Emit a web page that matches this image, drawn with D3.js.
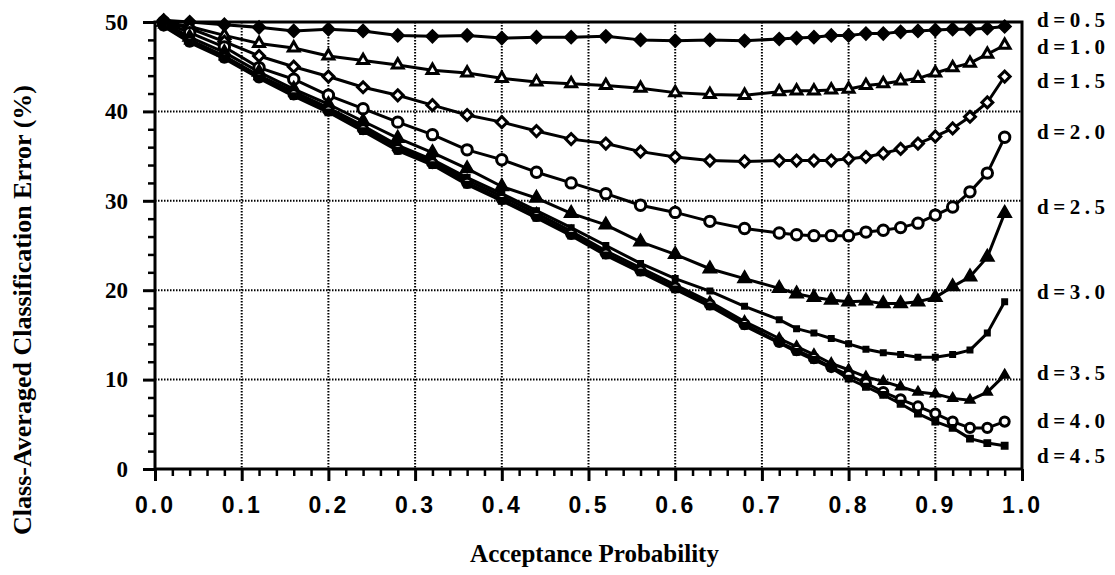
<!DOCTYPE html>
<html>
<head>
<meta charset="utf-8">
<script src="https://cdn.jsdelivr.net/npm/d3@7"></script>
<style>
  body { margin: 0; background: #fff; }
  svg { display: block; }
</style>
</head>
<body>
<figure id="chart" style="margin:0"></figure>
<script>
// acceptance probability values where the points sit
var accept = [0.01, 0.04, 0.08, 0.12, 0.16, 0.20, 0.24, 0.28, 0.32, 0.36, 0.40, 0.44, 0.48, 0.52, 0.56, 0.60, 0.64, 0.68,
	0.72, 0.74, 0.76, 0.78, 0.80, 0.82, 0.84, 0.86, 0.88, 0.90, 0.92, 0.94, 0.96, 0.98];

// class-averaged error (%) per separation d
var d05 = [50.2, 50.0, 49.7, 49.4, 49.0, 49.2, 49.0, 48.5, 48.4, 48.5, 48.2, 48.3, 48.3, 48.4, 48.0, 47.9, 48.0, 47.9,
	48.1, 48.2, 48.3, 48.5, 48.5, 48.7, 48.7, 48.9, 49.0, 49.1, 49.2, 49.2, 49.3, 49.5];
var d10 = [50.0, 49.5, 48.5, 47.6, 47.1, 46.2, 45.7, 45.2, 44.6, 44.3, 43.7, 43.3, 43.1, 42.9, 42.6, 42.1, 41.9, 41.8,
	42.2, 42.3, 42.3, 42.4, 42.5, 42.9, 43.1, 43.4, 43.7, 44.3, 44.9, 45.4, 46.4, 47.4];
var d15 = [50.0, 49.3, 47.8, 46.2, 45.0, 43.9, 42.7, 41.8, 40.7, 39.6, 38.8, 37.8, 36.9, 36.4, 35.5, 34.9, 34.5, 34.4,
	34.5, 34.5, 34.5, 34.5, 34.7, 34.9, 35.3, 35.8, 36.4, 37.2, 38.1, 39.4, 41.0, 43.9];
var d20 = [50.0, 48.8, 47.2, 44.9, 43.6, 41.8, 40.3, 38.8, 37.4, 35.7, 34.6, 33.2, 32.0, 30.8, 29.5, 28.7, 27.7, 26.9,
	26.4, 26.2, 26.1, 26.1, 26.1, 26.5, 26.7, 27.0, 27.5, 28.4, 29.3, 31.0, 33.1, 37.1];
var d25 = [50.0, 48.3, 46.6, 44.4, 42.5, 40.8, 38.9, 37.0, 35.4, 33.6, 31.6, 30.3, 28.6, 27.3, 25.4, 24.0, 22.4, 21.3,
	20.2, 19.6, 19.2, 18.9, 18.7, 18.8, 18.5, 18.5, 18.7, 19.2, 20.4, 21.5, 23.7, 28.6];
var d30 = [49.8, 48.0, 46.2, 44.0, 42.2, 40.4, 38.4, 36.2, 34.6, 32.6, 30.8, 28.9, 27.0, 25.0, 23.0, 21.3, 19.9, 18.2,
	16.7, 15.7, 15.2, 14.6, 14.0, 13.4, 13.0, 12.8, 12.5, 12.5, 12.8, 13.3, 15.2, 18.7];
var d35 = [49.7, 47.9, 46.1, 43.9, 42.1, 40.3, 38.2, 36.0, 34.4, 32.3, 30.5, 28.6, 26.6, 24.4, 22.5, 20.6, 18.7, 16.5,
	14.6, 13.7, 12.8, 11.8, 11.1, 10.3, 9.8, 9.2, 8.6, 8.4, 7.9, 7.7, 8.6, 10.5];
var d40 = [49.6, 47.8, 46.0, 43.8, 41.9, 40.1, 38.0, 35.8, 34.2, 32.0, 30.2, 28.3, 26.3, 24.1, 22.2, 20.3, 18.4, 16.2,
	14.2, 13.3, 12.4, 11.4, 10.5, 9.6, 8.6, 7.8, 7.0, 6.2, 5.3, 4.6, 4.6, 5.3];
var d45 = [49.5, 47.7, 45.9, 43.7, 41.7, 39.9, 37.8, 35.6, 34.0, 31.8, 30.0, 28.1, 26.1, 23.9, 22.0, 20.1, 18.2, 16.0,
	14.1, 13.1, 12.2, 11.3, 10.1, 9.2, 8.3, 7.3, 6.2, 5.3, 4.6, 3.4, 2.9, 2.6];

var seriesNames = ["d = 0.5", "d = 1.0", "d = 1.5", "d = 2.0", "d = 2.5", "d = 3.0", "d = 3.5", "d = 4.0", "d = 4.5"];
var seriesValues = [d05, d10, d15, d20, d25, d30, d35, d40, d45];

var xTicks = [0, 0.1, 0.2, 0.3, 0.4, 0.5, 0.6, 0.7, 0.8, 0.9, 1.0];
var yTicks = [0, 10, 20, 30, 40, 50];

// marker style for each series (shape, filled?, size)
var markers = [
	{ shape: "diamond", fill: true, size: 85 },
	{ shape: "triangle", fill: false, size: 50 },
	{ shape: "diamond", fill: false, size: 60 },
	{ shape: "circle", fill: false, size: 85 },
	{ shape: "triangle", fill: true, size: 80 },
	{ shape: "square", fill: true, size: 30 },
	{ shape: "triangle", fill: true, size: 45 },
	{ shape: "circle", fill: false, size: 65 },
	{ shape: "square", fill: true, size: 40 }
];
// where the right-hand labels sit, in % on the y scale
var labelAt = [49.4, 46.4, 42.6, 36.9, 28.5, 19.0, 10.0, 4.6, 0.7];

var dimensions = {
	width: 1115,
	height: 575,
	margin: { top: 22, right: 93, bottom: 106, left: 155 }
};
dimensions.boundedWidth = dimensions.width - dimensions.margin.left - dimensions.margin.right;
dimensions.boundedHeight = dimensions.height - dimensions.margin.top - dimensions.margin.bottom;

var svg = d3.select("figure#chart")
	.append("svg")
	.attr("width", dimensions.width)
	.attr("height", dimensions.height);

var chart = svg.append("g")
	.attr("transform", `translate(${dimensions.margin.left},${dimensions.margin.top})`);

var xScale = d3.scaleLinear().domain([0, 1]).range([0, dimensions.boundedWidth]);
var yScale = d3.scaleLinear().domain([0, 50]).range([dimensions.boundedHeight, 0]);

// dotted grid
chart.append("g").selectAll("line")
	.data(xTicks.slice(1, -1))
	.enter().append("line")
	.attr("x1", d => xScale(d)).attr("x2", d => xScale(d))
	.attr("y1", 0).attr("y2", dimensions.boundedHeight)
	.attr("stroke", "#000").attr("stroke-width", 2).attr("stroke-dasharray", "1.5,1.5");
chart.append("g").selectAll("line")
	.data(yTicks.slice(1, -1))
	.enter().append("line")
	.attr("y1", d => yScale(d)).attr("y2", d => yScale(d))
	.attr("x1", 0).attr("x2", dimensions.boundedWidth)
	.attr("stroke", "#000").attr("stroke-width", 2).attr("stroke-dasharray", "1.5,1.5");

// minor ticks
var minorX = d3.range(0, 1.001, 0.02).filter(v => Math.abs(v * 10 - Math.round(v * 10)) > 1e-6);
var minorY = d3.range(0, 51, 2).filter(v => v % 10 !== 0);

chart.append("g")
	.attr("transform", `translate(0, ${dimensions.boundedHeight})`)
	.call(d3.axisBottom(xScale).tickValues(minorX).tickSize(7).tickFormat(""))
	.call(g => g.select(".domain").remove())
	.selectAll("line").attr("stroke-width", 2.5);
chart.append("g")
	.call(d3.axisLeft(yScale).tickValues(minorY).tickSize(7).tickFormat(""))
	.call(g => g.select(".domain").remove())
	.selectAll("line").attr("stroke-width", 2.5);

var xAxis = chart.append("g")
	.attr("transform", `translate(0, ${dimensions.boundedHeight})`)
	.call(d3.axisBottom(xScale).tickValues(xTicks).tickSize(12).tickPadding(16).tickFormat(d3.format(".1f")))
	.call(g => g.select(".domain").remove());
xAxis.selectAll("line").attr("stroke-width", 3);
xAxis.selectAll("text")
	.style("font-family", "'Liberation Sans', Arial, sans-serif")
	.style("font-weight", "bold")
	.style("font-size", "23px")
	.style("letter-spacing", "3px")
	.style("fill", "#000");

var yAxis = chart.append("g")
	.call(d3.axisLeft(yScale).tickValues(yTicks).tickSize(12).tickPadding(15))
	.call(g => g.select(".domain").remove());
yAxis.selectAll("line").attr("stroke-width", 3);
yAxis.selectAll("text")
	.style("font-family", "'Liberation Serif', 'Times New Roman', serif")
	.style("font-weight", "bold")
	.style("font-size", "23px")
	.style("fill", "#000");

// lines
var line = d3.line()
	.x((d, i) => xScale(accept[i]))
	.y(d => yScale(d));

chart.append("g").selectAll("path")
	.data(seriesValues)
	.enter().append("path")
	.attr("d", d => line(d))
	.attr("fill", "none")
	.attr("stroke", "#000")
	.attr("stroke-width", 3)
	.attr("stroke-linejoin", "round");

// markers
var shapeOf = { diamond: d3.symbolSquare, triangle: d3.symbolTriangle, circle: d3.symbolCircle, square: d3.symbolSquare };

seriesValues.forEach(function(vals, s) {
	var m = markers[s];
	var sym = d3.symbol().type(shapeOf[m.shape]).size(m.size);
	chart.append("g").selectAll("path")
		.data(vals)
		.enter().append("path")
		.attr("d", sym)
		.attr("transform", (d, i) => `translate(${xScale(accept[i])},${yScale(d)})` + (m.shape === "diamond" ? " rotate(45)" : ""))
		.attr("fill", m.fill ? "#000" : "#fff")
		.attr("stroke", "#000")
		.attr("stroke-width", m.fill ? 1.5 : 3);
});

// frame
chart.append("rect")
	.attr("x", 0).attr("y", 0)
	.attr("width", dimensions.boundedWidth)
	.attr("height", dimensions.boundedHeight)
	.attr("fill", "none")
	.attr("stroke", "#000")
	.attr("stroke-width", 3);

// right-hand labels
chart.append("g").selectAll("text")
	.data(seriesNames)
	.enter().append("text")
	.attr("x", dimensions.boundedWidth + 15)
	.attr("y", (d, i) => yScale(labelAt[i]))
	.text(d => d.replace(/ /g, ""))
	.style("font-family", "'Liberation Serif', 'Times New Roman', serif")
	.style("font-weight", "bold")
	.style("font-size", "21px")
	.style("letter-spacing", "4.5px")
	.style("fill", "#000");

// axis titles
svg.append("text")
	.attr("x", dimensions.margin.left + dimensions.boundedWidth / 2 + 6)
	.attr("y", 562)
	.attr("text-anchor", "middle")
	.text("Acceptance Probability")
	.style("font-family", "'Liberation Serif', 'Times New Roman', serif")
	.style("font-weight", "bold")
	.style("font-size", "25px");

svg.append("text")
	.attr("transform", "translate(31, 310) rotate(-90)")
	.attr("text-anchor", "middle")
	.text("Class-Averaged Classification Error (%)")
	.style("font-family", "'Liberation Serif', 'Times New Roman', serif")
	.style("font-weight", "bold")
	.style("font-size", "26px");
</script>
</body>
</html>
